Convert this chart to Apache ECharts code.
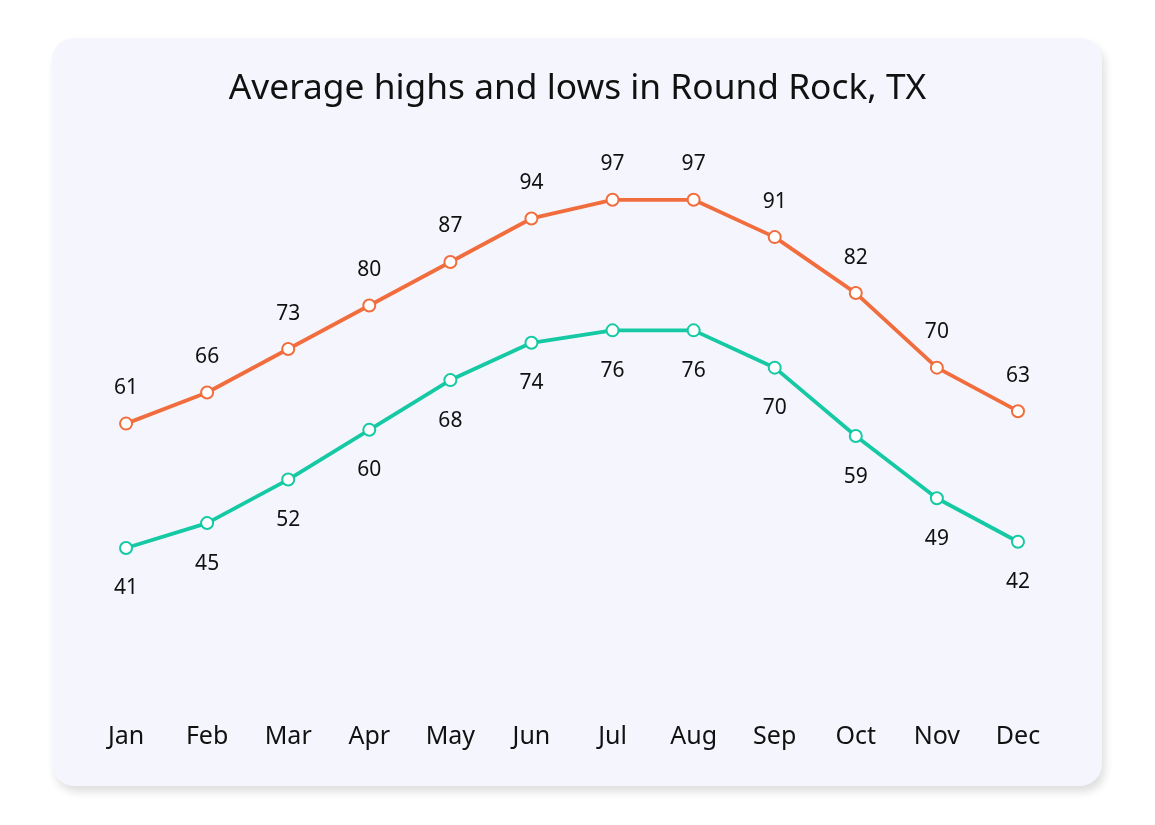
<!DOCTYPE html>
<html><head><meta charset="utf-8">
<script src="https://cdn.jsdelivr.net/npm/echarts@6/dist/echarts.min.js"></script>
<style>
html,body{margin:0;padding:0;background:#fff;width:1155px;height:825px;overflow:hidden;}
#card{position:absolute;left:52px;top:38px;width:1050px;height:748px;border-radius:22px;background:#f5f6fd;box-shadow:3px 6px 8px rgba(0,0,0,0.13);}
#chart{position:absolute;left:0;top:0;width:1155px;height:825px;}
</style></head>
<body>
<div id="card"></div>
<div id="chart"></div>
<script>
const months = ['Jan','Feb','Mar','Apr','May','Jun','Jul','Aug','Sep','Oct','Nov','Dec'];
const highs = [61,66,73,80,87,94,97,97,91,82,70,63];
const lows = [41,45,52,60,68,74,76,76,70,59,49,42];
const FONT = '"Noto Sans", "Open Sans", sans-serif';
const chart = echarts.init(document.getElementById('chart'), null, {renderer:'canvas'});
chart.setOption({
  backgroundColor: 'transparent',
  animation: false,
  title: {
    text: 'Average highs and lows in Round Rock, TX',
    left: 'center', top: 66,
    textStyle: {fontFamily: FONT, fontSize: 35.3, fontWeight: 'normal', color: '#111'}
  },
  grid: {left: 85.5, right: 96.5, top: 119, bottom: 146.5},
  xAxis: {
    type: 'category', data: months, boundaryGap: true,
    axisLine: {show: false}, axisTick: {show: false}, splitLine: {show: false},
    axisLabel: {fontFamily: FONT, fontSize: 25, color: '#111', margin: 46}
  },
  yAxis: {
    type: 'value', min: 20, max: 110, show: false
  },
  series: [
    {
      name: 'High', type: 'line', data: highs,
      symbol: 'emptyCircle', symbolSize: 12,
      lineStyle: {color: '#f26d3d', width: 3.8},
      itemStyle: {color: '#f26d3d', borderWidth: 3.5},
      label: {show: true, position: 'top', distance: 18, fontFamily: FONT, fontSize: 21, color: '#111'}
    },
    {
      name: 'Low', type: 'line', data: lows,
      symbol: 'emptyCircle', symbolSize: 12,
      lineStyle: {color: '#14c9a3', width: 3.8},
      itemStyle: {color: '#14c9a3', borderWidth: 3.5},
      label: {show: true, position: 'bottom', distance: 23, fontFamily: FONT, fontSize: 21, color: '#111'}
    }
  ]
});
</script>
</body></html>
